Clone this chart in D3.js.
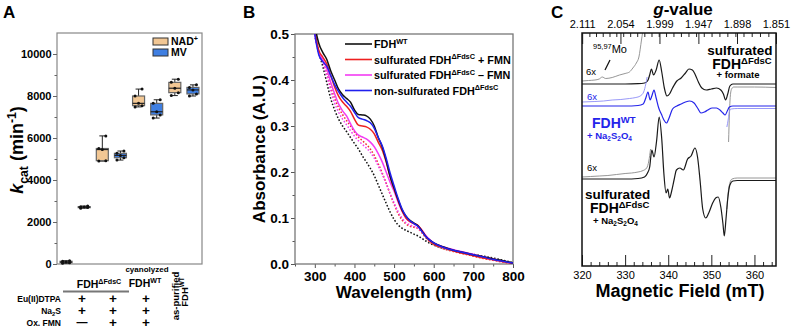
<!DOCTYPE html>
<html>
<head>
<meta charset="utf-8">
<script src="https://cdn.jsdelivr.net/npm/d3@7"></script>
<style>
  body { margin: 0; background: #fff; }
  svg { display: block; }
</style>
</head>
<body>
<svg id="fig" width="791" height="328"></svg>
<script>
const FONT = "'Liberation Sans', Arial, Helvetica, sans-serif";

// ---------- panel A data ----------
const groupsA = ["sulf -FMN", "sulf +FMN", "cyanolyzed", "as-purified"];
const seriesA = ["NAD+", "MV"];
const kcatNAD = [[30, 60, 90, 130, 160], [4900, 4920, 5450, 5500, 6100], [7480, 7540, 7650, 8000, 8330], [8020, 8160, 8370, 8650, 8800]];
const kcatMV = [[2660, 2690, 2710, 2730, 2760], [4950, 5060, 5170, 5270, 5380], [6950, 7100, 7250, 7650, 7820], [8000, 8100, 8290, 8410, 8530]];
const kcatTicks = [0, 2000, 4000, 6000, 8000, 10000];
const condRows = ["Eu(II)DTPA", "Na2S", "Ox. FMN"];
const condMarks = [["+", "+", "+"], ["+", "+", "+"], ["\u2014", "+", "+"]];

// ---------- panel B data ----------
const wavelengths = [290, 300, 310, 320, 330, 340, 350, 360, 370, 380, 390, 400, 410, 420, 430, 440, 450, 460, 470, 480, 490, 500, 510, 520, 530, 540, 550, 560, 570, 580, 590, 600, 625, 650, 675, 700, 725, 750, 775, 800];
const absWT = [0.60, 0.52, 0.48, 0.46, 0.445, 0.42, 0.40, 0.38, 0.368, 0.36, 0.352, 0.335, 0.325, 0.324, 0.322, 0.315, 0.30, 0.275, 0.255, 0.225, 0.19, 0.165, 0.14, 0.118, 0.104, 0.095, 0.089, 0.083, 0.072, 0.06, 0.052, 0.046, 0.037, 0.03, 0.025, 0.02, 0.016, 0.011, 0.007, 0.002];
const absFMN = [0.59, 0.51, 0.465, 0.45, 0.435, 0.41, 0.385, 0.365, 0.352, 0.343, 0.332, 0.315, 0.302, 0.30, 0.298, 0.293, 0.283, 0.265, 0.248, 0.222, 0.19, 0.163, 0.138, 0.116, 0.10, 0.092, 0.088, 0.084, 0.073, 0.06, 0.05, 0.044, 0.035, 0.028, 0.023, 0.018, 0.013, 0.009, 0.005, 0.001];
const absNoFMN = [0.58, 0.50, 0.46, 0.445, 0.425, 0.395, 0.37, 0.348, 0.333, 0.322, 0.305, 0.29, 0.28, 0.276, 0.272, 0.265, 0.255, 0.24, 0.222, 0.20, 0.178, 0.158, 0.135, 0.115, 0.10, 0.092, 0.088, 0.083, 0.074, 0.062, 0.053, 0.046, 0.037, 0.031, 0.026, 0.021, 0.016, 0.011, 0.006, 0.001];
const absNonSulf = [0.58, 0.50, 0.455, 0.44, 0.43, 0.41, 0.39, 0.375, 0.362, 0.352, 0.343, 0.33, 0.318, 0.315, 0.312, 0.307, 0.295, 0.275, 0.257, 0.23, 0.198, 0.17, 0.143, 0.12, 0.104, 0.094, 0.088, 0.082, 0.071, 0.06, 0.052, 0.046, 0.036, 0.03, 0.025, 0.02, 0.015, 0.01, 0.006, 0.002];
const absWTdot = [0.58, 0.50, 0.46, 0.43, 0.395, 0.36, 0.335, 0.315, 0.30, 0.288, 0.275, 0.262, 0.25, 0.235, 0.222, 0.208, 0.192, 0.172, 0.152, 0.132, 0.113, 0.097, 0.085, 0.078, 0.073, 0.069, 0.065, 0.061, 0.056, 0.05, 0.045, 0.041, 0.034, 0.029, 0.025, 0.021, 0.017, 0.013, 0.008, 0.003];
const absFMNdot = [0.58, 0.50, 0.46, 0.44, 0.415, 0.385, 0.36, 0.34, 0.325, 0.312, 0.30, 0.287, 0.276, 0.268, 0.26, 0.25, 0.236, 0.218, 0.198, 0.176, 0.152, 0.13, 0.11, 0.096, 0.087, 0.082, 0.08, 0.077, 0.068, 0.057, 0.048, 0.042, 0.033, 0.027, 0.022, 0.017, 0.012, 0.008, 0.004, 0.0];
const absNoFMNdot = [0.58, 0.50, 0.46, 0.44, 0.41, 0.378, 0.35, 0.33, 0.315, 0.303, 0.29, 0.278, 0.268, 0.26, 0.252, 0.243, 0.23, 0.213, 0.195, 0.175, 0.153, 0.133, 0.114, 0.10, 0.09, 0.085, 0.082, 0.078, 0.07, 0.06, 0.05, 0.044, 0.035, 0.029, 0.024, 0.019, 0.014, 0.009, 0.005, 0.001];
const absTicks = [0, 0.1, 0.2, 0.3, 0.4, 0.5];
const wlTicks = [300, 400, 500, 600, 700, 800];

// ---------- panel C data (field in mT, intensity in a.u.) ----------
const gLabels = ["2.111", "2.054", "1.999", "1.947", "1.898", "1.851"];
const gField = 675.6; // g * B (mT) at the spectrometer frequency
const fieldTicks = [320, 330, 340, 350, 360];
const eprOffsets = [182, 160, 87];
const field1 = [320, 325, 330, 333, 334.5, 335.2, 335.7, 336.1, 336.6, 337.2, 337.9, 338.5, 339.1, 339.7, 340.3, 341, 342, 343, 344, 344.8, 345.6, 346.3, 347, 347.8, 348.8, 350, 351.2, 352.2, 352.8, 353.3, 353.8, 354.3, 355, 356, 360, 365];
const epr1 = [0, 0, 0, 0.3, 1, 3, 9, 15, 9, 14, 24, 12, -4, -12, -10, -4, 3, 6, 11, 15, 14, 9, 2, -4, -6, -5, -4, -6, -10, -16, -10, -2, 0, 0, 0, 0];
const field1x6a = [320, 321.5, 323, 324, 324.7, 325.5, 327, 328.7, 330, 331, 331.8, 332.6, 333.2, 333.8, 334.5];
const epr1x6a = [3, 3.5, 4, 5, 7, 5.5, 6.5, 9, 10.5, 12, 16, 21, 27, 44, 64];
const field1x6b = [354.0, 354.2, 354.4, 354.7, 355.2, 356, 360, 365];
const epr1x6b = [-58, -30, -12, -5, -3, -3, -3, -3.5];
const field2 = [320, 325, 330, 333, 334.2, 334.8, 335.3, 335.8, 336.2, 336.7, 337.2, 337.8, 338.4, 339, 339.6, 340.2, 341, 342, 343, 344, 345, 346, 346.8, 347.6, 348.4, 349.2, 350.2, 351.2, 352, 352.7, 353.2, 353.7, 354.2, 355, 360, 365];
const epr2 = [0, 0, 0, 0.5, 2, 8, 14, 6, 10, 16, 8, -2, -8, -14, -17, -12, -3, 0, 2, 4, 5, 3, -2, -7, -6, -4, -2, -2, -4, -7, -9, -5, -1, 0, 0, 0];
const field2x6a = [320, 323, 325, 327, 329, 331, 332.5, 333.5, 334.3, 334.8, 335.1];
const epr2x6a = [4, 4.5, 5, 6, 6.5, 7.5, 8.5, 10, 14, 22, 29];
const field2x6b = [353.6, 353.9, 354.2, 354.6, 356, 365];
const epr2x6b = [-21, -14, -5, -3, -2.5, -2.5];
const field3 = [320, 325, 330, 333, 334.5, 335.2, 335.7, 336.2, 336.7, 337.3, 337.9, 338.5, 339, 339.5, 339.9, 340.3, 340.8, 341.4, 341.9, 342.7, 343.5, 344.5, 345.3, 346.2, 346.8, 347.4, 348, 348.7, 349.4, 350.3, 351, 351.6, 352.2, 352.7, 353, 353.4, 353.8, 354.3, 355, 356, 360, 365];
const epr3 = [0, 0, 0, 0.5, 2, 6, 12, 29, 22, 38, 62, 40, 5, -14, -10, -19, -12, 0, 9, 11, 9, 20, 23, 31, 22, -2, -30, -39, -34, -24, -19, -18, -28, -45, -57, -40, -20, -6, -2, -1.5, -1.5, -1.5];
const field3x6a = [320, 322, 324, 326, 328, 330, 331.5, 333, 334.2, 335, 335.5, 335.9];
const epr3x6a = [2, 2.5, 3, 3.5, 4.5, 5.5, 6, 7, 8.5, 11, 18, 30];
const field3x6b = [353.6, 353.9, 354.3, 354.8, 356, 365];
const epr3x6b = [-30, -14, -4, 0, 1, 1];

// ---------- helpers ----------
const svg = d3.select("#fig").attr("font-family", FONT);
svg.append("rect").attr("width", 791).attr("height", 328).attr("fill", "#fff");

// text with sub/superscript parts: [text, kind]
function rich(t, parts, size) {
  let shift = 0;
  parts.forEach(([txt, kind]) => {
    const target = kind === "sup" ? -0.38 * size : kind === "sub" ? 0.25 * size : 0;
    const ts = t.append("tspan").attr("dy", target - shift).text(txt);
    shift = target;
    if (kind === "sup" || kind === "sub") ts.attr("font-size", size * 0.68);
    if (kind === "it") ts.attr("font-style", "italic");
  });
  return t;
}
function label(x, y, size, weight, parts, anchor) {
  const t = svg.append("text").attr("x", x).attr("y", y)
    .attr("font-size", size).attr("font-weight", weight || "normal")
    .attr("text-anchor", anchor || "start");
  return rich(t, parts, size);
}
function rotLabel(x, y, size, weight, parts) {
  const t = svg.append("text").attr("transform", `translate(${x},${y}) rotate(-90)`)
    .attr("text-anchor", "middle").attr("font-size", size).attr("font-weight", weight);
  return rich(t, parts, size);
}
function styleAxis(g, size, weight) {
  g.attr("font-family", FONT).attr("font-size", size).attr("font-weight", weight);
  g.select(".domain").remove();
}

// panel letters
label(3, 18, 17, "bold", [["A"]]);
label(243, 18, 17, "bold", [["B"]]);
label(551, 18, 17, "bold", [["C"]]);

// ================= panel A =================
const xA = d3.scaleBand().domain(groupsA).range([57, 202]);
const xSubA = d3.scaleBand().domain(seriesA).range([0, xA.bandwidth()]);
const yA = d3.scaleLinear().domain([0, 11000]).range([264, 33]);
const colA = d3.scaleOrdinal().domain(seriesA).range(["#f2c794", "#3f7fe2"]);

svg.append("rect").attr("x", 57).attr("y", yA(11000)).attr("width", 145).attr("height", yA(0) - yA(11000))
  .attr("fill", "none").attr("stroke", "#888").attr("stroke-width", 1.2);

const axA = svg.append("g").attr("transform", "translate(57,0)")
  .call(d3.axisLeft(yA).tickValues(kcatTicks).tickSize(4).tickPadding(1.5).tickFormat(d3.format("d")));
styleAxis(axA, 11, "bold");
axA.selectAll("line").attr("stroke", "#666");
const axAm = svg.append("g").attr("transform", "translate(57,0)")
  .call(d3.axisLeft(yA).tickValues(d3.range(1000, 11000, 2000)).tickSize(2.5).tickFormat(""));
styleAxis(axAm, 10, "normal");
axAm.selectAll("line").attr("stroke", "#666");

const boxes = [];
groupsA.forEach((g, i) => {
  [["NAD+", kcatNAD[i]], ["MV", kcatMV[i]]].forEach(([s, vals]) => {
    const v = vals.slice().sort(d3.ascending);
    boxes.push({ g, s, vals, min: v[0], q1: d3.quantile(v, 0.25), med: d3.quantile(v, 0.5), q3: d3.quantile(v, 0.75), max: v[v.length - 1] });
  });
});
const cxA = d => xA(d.g) + xSubA(d.s) + xSubA.bandwidth() / 2;
const boxW = 12;
const bx = svg.append("g").selectAll("g").data(boxes).join("g");
bx.append("line").attr("x1", cxA).attr("x2", cxA).attr("y1", d => yA(d.max)).attr("y2", d => yA(d.min))
  .attr("stroke", "#222").attr("stroke-width", 1);
bx.append("line").attr("x1", d => cxA(d) - 3).attr("x2", d => cxA(d) + 3).attr("y1", d => yA(d.max)).attr("y2", d => yA(d.max)).attr("stroke", "#222");
bx.append("line").attr("x1", d => cxA(d) - 3).attr("x2", d => cxA(d) + 3).attr("y1", d => yA(d.min)).attr("y2", d => yA(d.min)).attr("stroke", "#222");
bx.append("rect").attr("x", d => cxA(d) - boxW / 2).attr("width", boxW)
  .attr("y", d => yA(d.q3)).attr("height", d => Math.max(1, yA(d.q1) - yA(d.q3)))
  .attr("fill", d => colA(d.s)).attr("stroke", "#666").attr("stroke-width", 1.2);
bx.append("line").attr("x1", d => cxA(d) - boxW / 2).attr("x2", d => cxA(d) + boxW / 2)
  .attr("y1", d => yA(d.med)).attr("y2", d => yA(d.med)).attr("stroke", "#222").attr("stroke-width", 1.2);
const jit = [-3.5, 3.5, 0, -3.5, 3.5];
bx.selectAll("circle").data(d => d.vals.map((v, i) => ({ x: cxA(d) + jit[i], v }))).join("circle")
  .attr("cx", p => p.x).attr("cy", p => yA(p.v)).attr("r", 1.5).attr("fill", "#111");

// legend A
seriesA.forEach((s, i) => {
  svg.append("rect").attr("x", 153).attr("y", 38 + i * 11).attr("width", 15).attr("height", 7)
    .attr("fill", colA(s)).attr("stroke", "#333").attr("stroke-width", 1);
});
label(171, 45, 10.5, "bold", [["NAD"], ["+", "sup"]]);
label(171, 56, 10.5, "bold", [["MV"]]);

// y title A
rotLabel(23, 150, 18, "bold", [["k", "it"], ["cat", "sub"], [" (min"], ["-1", "sup"], [")"]]);

// condition table under A
label(99, 288, 10.5, "bold", [["FDH"], ["\u0394FdsC", "sup"]], "middle");
svg.append("line").attr("x1", 63).attr("x2", 129).attr("y1", 291.5).attr("y2", 291.5).attr("stroke", "#777").attr("stroke-width", 2);
label(147, 272, 8, "bold", [["cyanolyzed"]], "middle");
label(145, 287, 10.5, "bold", [["FDH"], ["WT", "sup"]], "middle");
rotLabel(179, 296, 9.5, "bold", [["as-purified"]]);
rotLabel(188, 292, 9.5, "bold", [["FDH"], ["WT", "sup"]]);

const rowY = [302, 314, 326];
const colX = [82, 113, 146];
label(61, rowY[0], 8.5, "bold", [["Eu(II)DTPA"]], "end");
label(61, rowY[1], 8.5, "bold", [["Na"], ["2", "sub"], ["S"]], "end");
label(61, rowY[2], 8.5, "bold", [["Ox. FMN"]], "end");
condMarks.forEach((row, r) => row.forEach((m, c) => {
  svg.append("text").attr("x", colX[c]).attr("y", rowY[r] + (m === "+" ? 0.5 : -0.5)).attr("text-anchor", "middle")
    .attr("font-size", m === "+" ? 13.5 : 11).attr("font-weight", "bold").text(m);
}));

// ================= panel B =================
const xB = d3.scaleLinear().domain([250, 800]).range([295, 513]);
const yB = d3.scaleLinear().domain([0, 0.5]).range([264, 34]);
svg.append("clipPath").attr("id", "clipB").append("rect")
  .attr("x", 295).attr("y", yB(0.5)).attr("width", 218).attr("height", yB(0) - yB(0.5));

const axBx = svg.append("g").attr("transform", `translate(0,${yB(0)})`)
  .call(d3.axisBottom(xB).tickValues(wlTicks).tickSize(4).tickPadding(3));
styleAxis(axBx, 13.5, "bold");
const axBxm = svg.append("g").attr("transform", `translate(0,${yB(0)})`)
  .call(d3.axisBottom(xB).tickValues(d3.range(250, 800, 100)).tickSize(2.5).tickFormat(""));
styleAxis(axBxm, 10, "normal");
const axBy = svg.append("g").attr("transform", "translate(295,0)")
  .call(d3.axisLeft(yB).tickValues(absTicks).tickSize(4).tickPadding(2).tickFormat(d3.format(".1f")));
styleAxis(axBy, 13.5, "bold");
const axBym = svg.append("g").attr("transform", "translate(295,0)")
  .call(d3.axisLeft(yB).tickValues(d3.range(0.05, 0.5, 0.1)).tickSize(2.5).tickFormat(""));
styleAxis(axBym, 10, "normal");
[axBx, axBxm, axBy, axBym].forEach(a => a.selectAll("line").attr("stroke", "#555"));

svg.append("rect").attr("x", 295).attr("y", yB(0.5)).attr("width", 218).attr("height", yB(0) - yB(0.5))
  .attr("fill", "none").attr("stroke", "#777").attr("stroke-width", 1.3);

const specs = [
  { vals: absWTdot, color: "#111", dash: "1.6,1.8" },
  { vals: absFMNdot, color: "#f03030", dash: "1.6,1.8" },
  { vals: absNoFMNdot, color: "#f040f0", dash: "1.6,1.8" },
  { vals: absNoFMN, color: "#f33cf3", dash: null },
  { vals: absFMN, color: "#ee2020", dash: null },
  { vals: absWT, color: "#111", dash: null },
  { vals: absNonSulf, color: "#2020ee", dash: null }
];
const lineB = d3.line().x((d, i) => xB(wavelengths[i])).y(d => yB(d)).curve(d3.curveMonotoneX);
svg.append("g").attr("clip-path", "url(#clipB)").selectAll("path").data(specs).join("path")
  .attr("d", d => lineB(d.vals)).attr("fill", "none").attr("stroke", d => d.color)
  .attr("stroke-width", 1.5).attr("stroke-dasharray", d => d.dash);

const legB = [
  { color: "#111", parts: [["FDH"], ["WT", "sup"]] },
  { color: "#ee2020", parts: [["sulfurated FDH"], ["\u0394FdsC", "sup"], [" + FMN"]] },
  { color: "#f33cf3", parts: [["sulfurated FDH"], ["\u0394FdsC", "sup"], [" \u2013 FMN"]] },
  { color: "#2020ee", parts: [["non-sulfurated FDH"], ["\u0394FdsC", "sup"]] }
];
legB.forEach((d, i) => {
  const y = 44 + i * 15.5;
  svg.append("line").attr("x1", 345).attr("x2", 372).attr("y1", y).attr("y2", y).attr("stroke", d.color).attr("stroke-width", 1.6);
  label(374, y + 4, 10.8, "bold", d.parts);
});

label(404, 298, 17, "bold", [["Wavelength (nm)"]], "middle");
rotLabel(265, 149, 17, "bold", [["Absorbance (A.U.)"]]);

// ================= panel C =================
const xC = d3.scaleLinear().domain([320, 365]).range([582, 776]);
const yC = d3.scaleLinear().domain([0, 233]).range([266, 33]);
svg.append("clipPath").attr("id", "clipC").append("rect")
  .attr("x", 582).attr("y", 33).attr("width", 194).attr("height", 233);

const axCb = svg.append("g").attr("transform", "translate(0,266)")
  .call(d3.axisBottom(xC).tickValues(fieldTicks).tickSizeInner(-11).tickSizeOuter(0).tickPadding(5));
styleAxis(axCb, 11, "normal");
const axCbm = svg.append("g").attr("transform", "translate(0,266)")
  .call(d3.axisBottom(xC).tickValues(d3.range(322, 365, 2).filter(v => v % 10 !== 0)).tickSizeInner(-4).tickFormat(""));
styleAxis(axCbm, 10, "normal");
const gMaj = gLabels.map(g => gField / +g);
const axCt = svg.append("g").attr("transform", "translate(0,33)")
  .call(d3.axisTop(xC).tickValues(gMaj).tickSizeInner(-11).tickSizeOuter(0).tickPadding(5).tickFormat((d, i) => gLabels[i]));
styleAxis(axCt, 11, "normal");
const gMin = d3.range(2.10, 1.855, -0.01).map(g => gField / g);
const axCtm = svg.append("g").attr("transform", "translate(0,33)")
  .call(d3.axisTop(xC).tickValues(gMin).tickSizeInner(-4).tickFormat(""));
styleAxis(axCtm, 10, "normal");
[axCb, axCbm, axCt, axCtm].forEach(a => a.selectAll("line").attr("stroke", "#222"));

const traces = [
  { f: field1x6a, s: epr1x6a, k: 0, color: "#8a8a8a", w: 0.9 },
  { f: field1x6b, s: epr1x6b, k: 0, color: "#8a8a8a", w: 0.9 },
  { f: field1, s: epr1, k: 0, color: "#1a1a1a", w: 1.2 },
  { f: field2x6a, s: epr2x6a, k: 1, color: "#8c8cf6", w: 0.9 },
  { f: field2x6b, s: epr2x6b, k: 1, color: "#8c8cf6", w: 0.9 },
  { f: field2, s: epr2, k: 1, color: "#2424ea", w: 1.2 },
  { f: field3x6a, s: epr3x6a, k: 2, color: "#8a8a8a", w: 0.9 },
  { f: field3x6b, s: epr3x6b, k: 2, color: "#8a8a8a", w: 0.9 },
  { f: field3, s: epr3, k: 2, color: "#1a1a1a", w: 1.2 }
];
svg.append("g").attr("clip-path", "url(#clipC)").selectAll("path").data(traces).join("path")
  .attr("d", t => d3.line().x((d, i) => xC(t.f[i])).y(d => yC(d + eprOffsets[t.k])).curve(d3.curveMonotoneX)(t.s))
  .attr("fill", "none").attr("stroke", t => t.color).attr("stroke-width", t => t.w);

svg.append("rect").attr("x", 582).attr("y", 33).attr("width", 194).attr("height", 233)
  .attr("fill", "none").attr("stroke", "#111").attr("stroke-width", 1.5);

// panel C text
label(683, 15, 17, "bold", [["g", "it"], ["-value"]], "middle");
label(680, 297, 18, "bold", [["Magnetic Field (mT)"]], "middle");

label(593, 53, 11, "normal", [["95,97", "sup"], ["Mo"]]);
svg.append("line").attr("x1", 605).attr("y1", 70).attr("x2", 610).attr("y2", 60).attr("stroke", "#111").attr("stroke-width", 1.2);
label(586, 75, 9.5, "normal", [["6x"]]);
label(587, 100, 9.5, "normal", [["6x"]]).attr("fill", "#2424ea");
label(587, 171, 9.5, "normal", [["6x"]]);

label(740, 55, 13.5, "bold", [["sulfurated"]], "middle");
label(742, 69, 14, "bold", [["FDH"], ["\u0394FdsC", "sup"]], "middle");
label(738, 78, 9.5, "bold", [["+ formate"]], "middle");

label(592, 128, 14, "bold", [["FDH"], ["WT", "sup"]]).attr("fill", "#2424ea");
label(587, 139, 9.5, "bold", [["+ Na"], ["2", "sub"], ["S"], ["2", "sub"], ["O"], ["4", "sub"]]).attr("fill", "#2424ea");

label(585, 199, 13.5, "bold", [["sulfurated"]]);
label(590, 213, 14, "bold", [["FDH"], ["\u0394FdsC", "sup"]]);
label(593, 224, 9.5, "bold", [["+ Na"], ["2", "sub"], ["S"], ["2", "sub"], ["O"], ["4", "sub"]]);
</script>
</body>
</html>
